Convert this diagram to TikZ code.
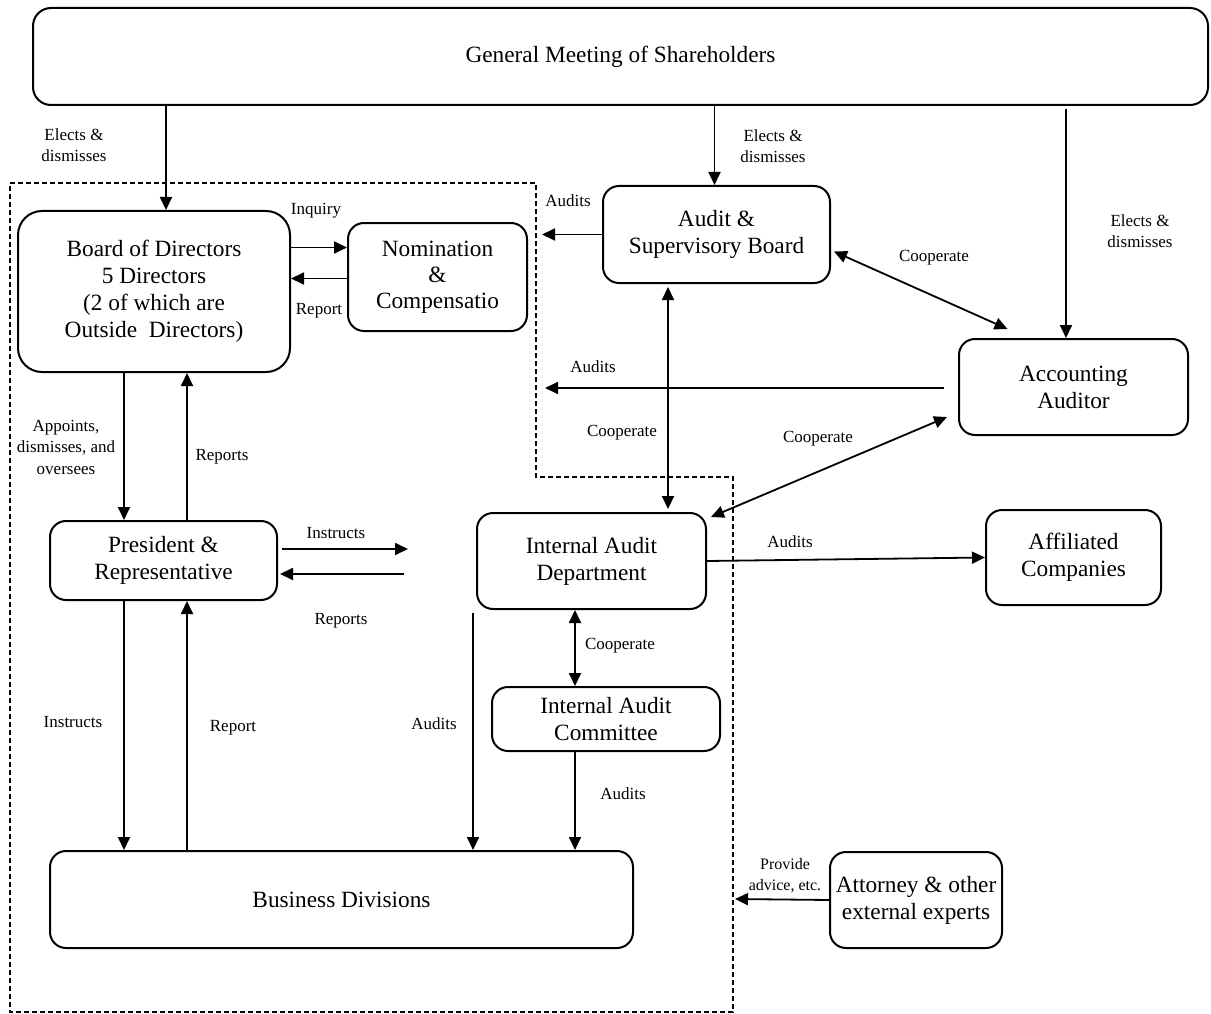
\documentclass[tikz,border=0pt]{standalone}
\usepackage{fontspec}
\setmainfont{Liberation Serif}
\usetikzlibrary{arrows.meta}
\begin{document}
\begin{tikzpicture}[x=1pt,y=-1pt,
  box/.style={draw, line width=2pt, rounded corners=16pt, align=center, inner sep=0pt,
    font=\fontsize{23.3}{27}\selectfont},
  lbl/.style={align=center, inner sep=0pt, font=\fontsize{17}{21.5}\selectfont},
  arr/.style={line width=1.8pt, -{Triangle[length=13pt,width=12pt]}},
  darr/.style={line width=1.8pt, {Triangle[length=13pt,width=12pt]}-{Triangle[length=13pt,width=12pt]}},
  bound/.style={line width=1.4pt, dash pattern=on 5pt off 3pt}
]
\useasboundingbox (0,0) rectangle (1211,1014);

% boundary
\draw[bound] (10,183) -- (536,183) -- (536,477) -- (733,477) -- (733,1012) -- (10,1012) -- cycle;

% boxes
\node[box, minimum width=1175pt, minimum height=97pt, rounded corners=18pt] (gm) at (620.5,56.5) {General Meeting of Shareholders};
\node[box, minimum width=272pt, minimum height=161pt, rounded corners=24pt] (bod) at (154,291.5) {Board of Directors\\5 Directors\\(2 of which are\\Outside\ \ Directors)};
\node[box, minimum width=179pt, minimum height=108pt, font=\fontsize{23.3}{26}\selectfont] (nom) at (437.5,277) {Nomination\\\&\\Compensatio};
\node[box, minimum width=227pt, minimum height=97pt] (asb) at (716.5,234.5) {Audit \&\\Supervisory Board};
\node[box, minimum width=229pt, minimum height=96pt] (acc) at (1073.5,387) {Accounting\\Auditor};
\node[box, minimum width=227pt, minimum height=79pt] (pres) at (163.5,560.5) {President \&\\Representative};
\node[box, minimum width=229pt, minimum height=96pt] (iad) at (591.5,561) {Internal Audit\\Department};
\node[box, minimum width=175pt, minimum height=95pt] (aff) at (1073.5,557.5) {Affiliated\\Companies};
\node[box, minimum width=228pt, minimum height=64pt] (iac) at (606,719) {Internal Audit\\Committee};
\node[box, minimum width=583pt, minimum height=97pt] (bd) at (341.5,899.5) {Business Divisions};
\node[box, minimum width=172pt, minimum height=96pt] (att) at (916,900) {Attorney \& other\\external experts};

% free ends
\coordinate (asbL) at (542,234.5);
\coordinate (accL) at (545,388);
\coordinate (insE) at (408,549);
\coordinate (repE) at (404,574);
\coordinate (attL) at (735,899);

% connectors
\draw[arr] ([xshift=12pt]bod.north |- gm.south) -- ([xshift=12pt]bod.north);
\draw[arr] ([xshift=-2pt]asb.north |- gm.south) -- ([xshift=-2pt]asb.north);
\draw[arr] ([xshift=-7.5pt,yshift=-3pt]acc.north |- gm.south) -- ([xshift=-7.5pt]acc.north);
\draw[arr] ([yshift=44pt]bod.east) -- ([yshift=44pt]bod.east -| nom.west);
\draw[arr] ([yshift=13pt]bod.east -| nom.west) -- ([yshift=13pt]bod.east);
\draw[arr] (asb.west) -- (asbL);
\draw[darr] ([xshift=3pt,yshift=-17pt]asb.east) -- ([xshift=-66pt,yshift=9pt]acc.north);
\draw[darr] ([xshift=-48.5pt,yshift=-3pt]asb.south) -- ([xshift=76.5pt,yshift=3pt]iad.north);
\draw[arr] ([xshift=-14pt,yshift=-1pt]acc.west) -- (accL);
\draw[darr] ([xshift=-11pt,yshift=-30pt]acc.west) -- ([xshift=4pt,yshift=-5pt]iad.north east);
\draw[arr] ([xshift=-30pt]bod.south) -- ([xshift=-30pt]bod.south |- pres.north);
\draw[arr] ([xshift=33pt]bod.south |- pres.north) -- ([xshift=33pt]bod.south);
\draw[arr] ([xshift=4pt,yshift=11.5pt]pres.east) -- (insE);
\draw[arr] (repE) -- ([xshift=2pt,yshift=-13.5pt]pres.east);
\draw[arr] ([xshift=-39.5pt]pres.south) -- ([xshift=-39.5pt]pres.south |- bd.north);
\draw[arr] ([xshift=23.5pt]pres.south |- bd.north) -- ([xshift=23.5pt]pres.south);
\draw[arr] ([xshift=-3pt,yshift=-3pt]iad.south west) -- ([xshift=-3pt]iad.south west |- bd.north);
\draw[darr] ([xshift=-16.5pt]iad.south) -- ([xshift=-16.5pt]iad.south |- iac.north);
\draw[arr] ([xshift=-31pt]iac.south) -- ([xshift=-31pt]iac.south |- bd.north);
\draw[arr] (iad.east) -- (aff.west);
\draw[arr] (att.west) -- (attL);

% labels
\node[lbl] (l1) at (74,145) {Elects \&\\dismisses};
\node[lbl] (l2) at (773,146) {Elects \&\\dismisses};
\node[lbl] (l3) at (1140,231) {Elects \&\\dismisses};
\node[lbl] (l4) at (316,211) {Inquiry};
\node[lbl] (l5) at (319,311) {Report};
\node[lbl] (l6) at (568,201) {Audits};
\node[lbl] (l7) at (934,258) {Cooperate};
\node[lbl] (l8) at (593,367) {Audits};
\node[lbl] (l9) at (622,433) {Cooperate};
\node[lbl] (l10) at (818,439) {Cooperate};
\node[lbl] (l11) at (66,447) {Appoints,\\dismisses, and\\oversees};
\node[lbl] (l12) at (222,457) {Reports};
\node[lbl] (l13) at (336,533) {Instructs};
\node[lbl] (l14) at (341,621) {Reports};
\node[lbl] (l15) at (73,722) {Instructs};
\node[lbl] (l16) at (233,728) {Report};
\node[lbl] (l17) at (434,724) {Audits};
\node[lbl] (l18) at (620,646) {Cooperate};
\node[lbl] (l19) at (623,794) {Audits};
\node[lbl] (l20) at (790,542) {Audits};
\node[lbl, font=\fontsize{16}{21}\selectfont] (l21) at (785,876) {Provide\\advice, etc.};
\end{tikzpicture}
\end{document}
